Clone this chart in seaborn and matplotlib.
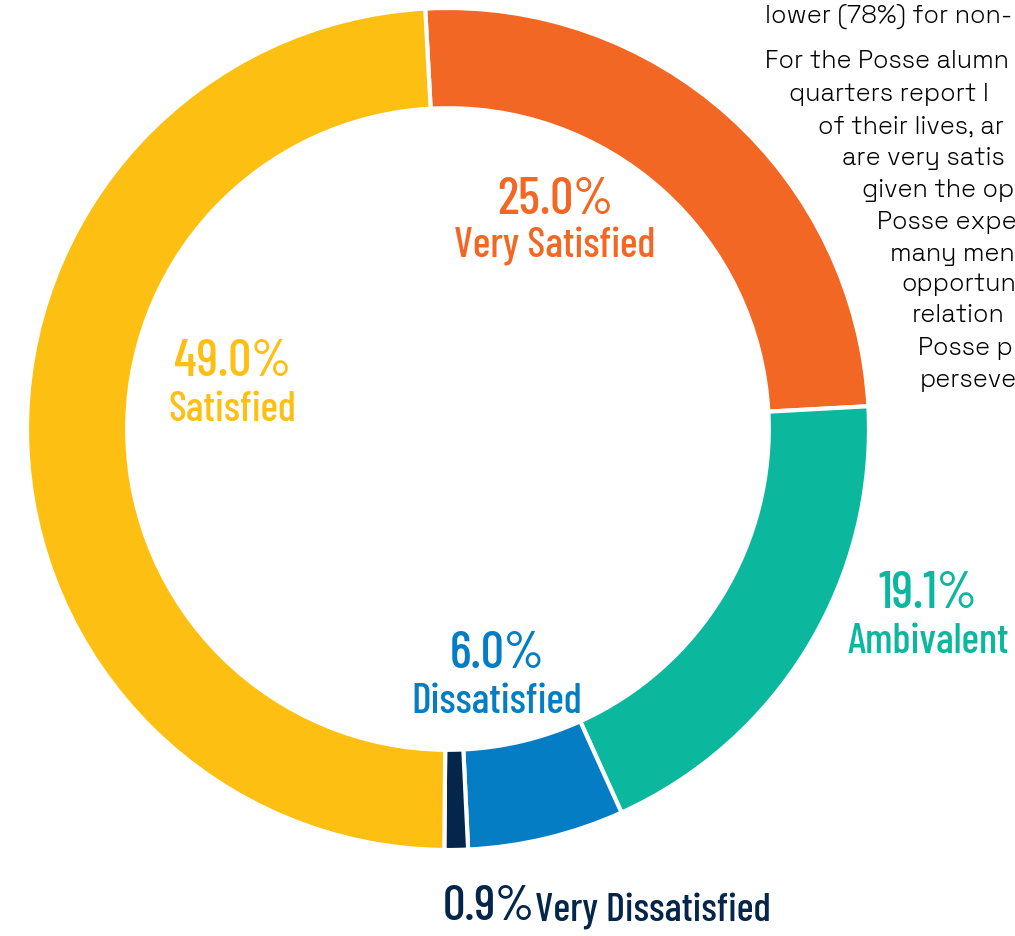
import matplotlib.pyplot as plt
import seaborn as sns

categories = ['Very Satisfied', 'Ambivalent', 'Dissatisfied', 'Very Dissatisfied', 'Satisfied']
shares = [25.0, 19.1, 6.0, 0.9, 49.0]
colors = ['#F26724', '#0BB89E', '#047DC4', '#03264A', '#FDC012']

side_text = [
    ('lower (78%) for non-', 765, 16),
    ('For the Posse alumn', 765, 62),
    ('quarters report l', 789, 95),
    ('of their lives, ar', 818, 127),
    ('are very satis', 842, 158),
    ('given the op', 862, 190),
    ('Posse expe', 877, 222),
    ('many men', 890, 254),
    ('opportun', 901, 285),
    ('relation', 912, 316),
    ('Posse p', 918, 348),
    ('perseve', 920, 380),
]

sns.set_theme(style='white')
label_font = ['Barlow Condensed', 'Roboto Condensed', 'DejaVu Sans']
body_font = ['Space Grotesk', 'DejaVu Sans']
plt.rcParams['font.family'] = label_font

W, H = 1015, 937
fig = plt.figure(figsize=(W / 100, H / 100), dpi=100)
ax = fig.add_axes([0, 0, 1, 1])

cx, cy, r = 448, H - 430, 421
ax.pie(shares, colors=colors, startangle=93.1, counterclock=False,
       center=(cx, cy), radius=r, frame=True,
       wedgeprops=dict(width=r * 0.238, edgecolor='white', linewidth=3))
ax.set_xlim(0, W)
ax.set_ylim(0, H)
ax.axis('off')

# label positions (pixel coords, y from top)
label_pos = {
    'Very Satisfied': (555, 200),
    'Ambivalent': (928, 595),
    'Dissatisfied': (497, 655),
    'Satisfied': (232, 363),
}
for cat, val, col in zip(categories, shares, colors):
    if cat in label_pos:
        x, y = label_pos[cat]
        ax.text(x, H - y, f'{val:.1f}%', color=col, fontsize=37,
                ha='center', va='center', fontweight='medium')
        ax.text(x, H - y - 47, cat, color=col, fontsize=30,
                ha='center', va='center', fontweight='medium')

i = categories.index('Very Dissatisfied')
ax.text(443, H - 908, f'{shares[i]:.1f}%', color=colors[i], fontsize=36,
        ha='left', va='center', fontweight='medium')
ax.text(535, H - 912, categories[i], color=colors[i], fontsize=29,
        ha='left', va='center', fontweight='medium')

for s, x, y in side_text:
    ax.text(x, H - y, s, color='black', fontsize=18, ha='left', va='center',
            family=body_font)

fig.savefig('out.png', dpi=100)
